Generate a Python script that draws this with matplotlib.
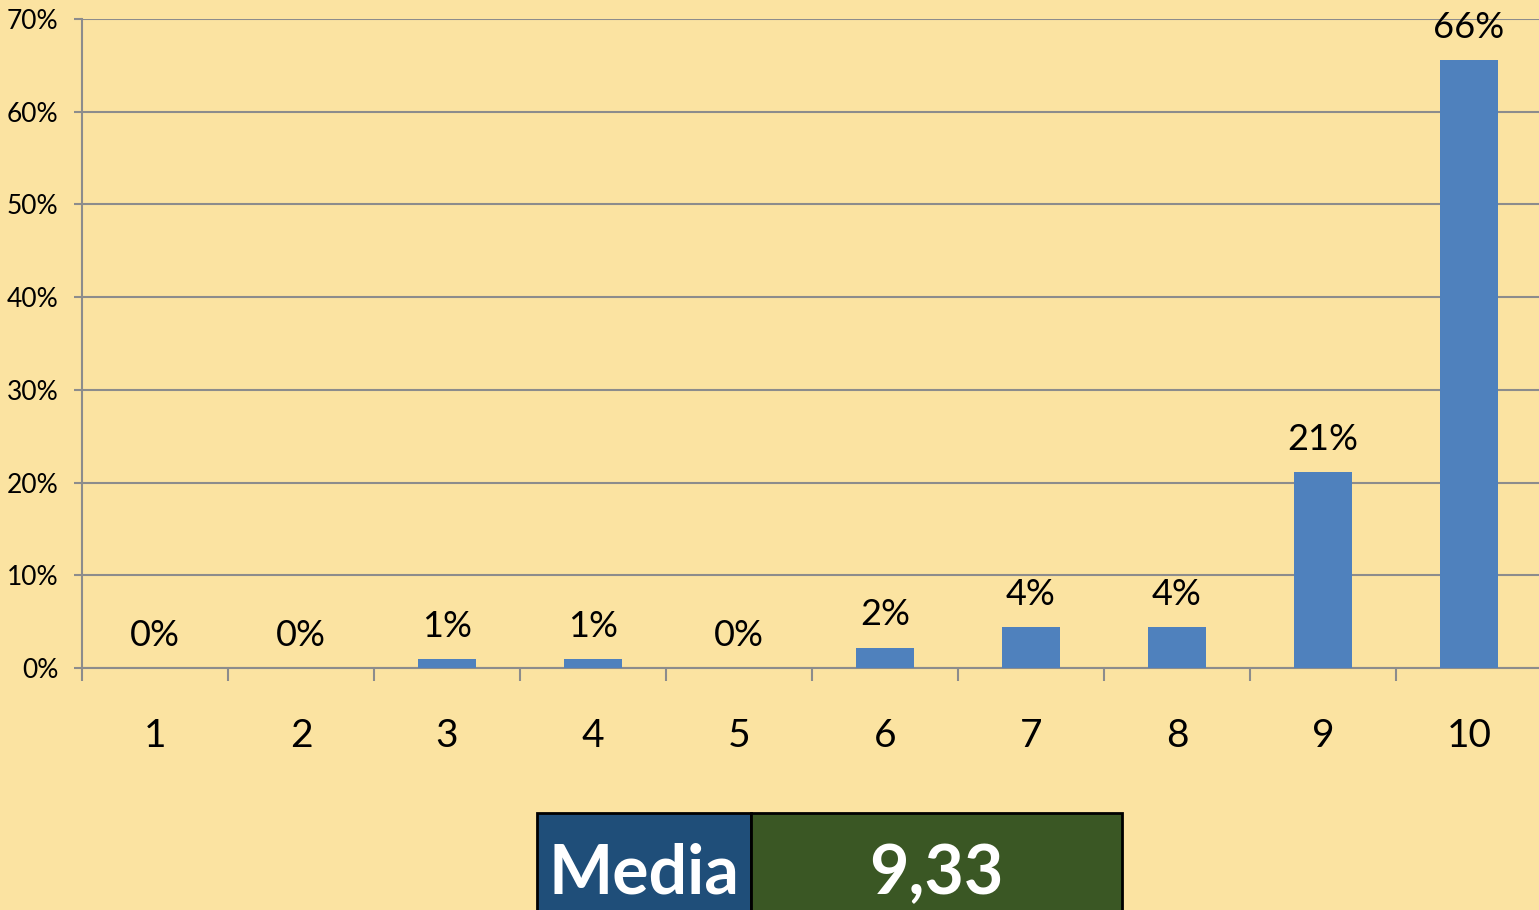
import matplotlib
matplotlib.use("Agg")
import matplotlib.pyplot as plt
from matplotlib.patches import Rectangle
from matplotlib.ticker import MultipleLocator, FuncFormatter

categories = ["1", "2", "3", "4", "5", "6", "7", "8", "9", "10"]
values = [0.0, 0.0, 0.97, 0.97, 0.0, 2.2, 4.4, 4.4, 21.1, 65.6]
labels = ["0%", "0%", "1%", "1%", "0%", "2%", "4%", "4%", "21%", "66%"]
media_label = "Media"
media_value = "9,33"

W, H = 1539, 910
BG = "#FBE3A1"
BAR = "#4F81BD"
GRID = "#8C8C8C"

fig = plt.figure(figsize=(W / 100, H / 100), dpi=100, facecolor=BG)
ax_left, ax_right, ax_top, ax_bot = 82, 1539, 19, 668
ax = fig.add_axes([ax_left / W, (H - ax_bot) / H, (ax_right - ax_left) / W, (ax_bot - ax_top) / H])
ax.set_facecolor(BG)

cat_w = 146.0
x = list(range(1, len(categories) + 1))
ax.bar(x, values, width=0.4, color=BAR, zorder=3)
ax.set_xlim(0.5, 0.5 + (ax_right - ax_left) / cat_w)
ax.set_ylim(0, 70)

ax.yaxis.set_major_locator(MultipleLocator(10))
ax.yaxis.set_major_formatter(FuncFormatter(lambda v, p: f"{int(round(v))}%"))
ax.grid(axis="y", color=GRID, linewidth=1.5, zorder=1)

ax.set_xticks(x)
ax.set_xticklabels(categories)
ax.set_xticks([i + 0.5 for i in range(0, len(categories))], minor=True)
ax.tick_params(axis="x", which="major", length=0, pad=36, labelsize=28)
ax.tick_params(axis="x", which="minor", length=9, width=1.5, color=GRID, direction="out")
ax.tick_params(axis="y", which="major", length=6, width=1.5, color=GRID, labelsize=19, pad=11)

for lab in ax.get_xticklabels() + ax.get_yticklabels():
    lab.set_family(["Lato", "DejaVu Sans"])

for s in ["top", "right"]:
    ax.spines[s].set_visible(False)
for s in ["left", "bottom"]:
    ax.spines[s].set_color(GRID)
    ax.spines[s].set_linewidth(1.5)

for xi, v, t in zip(x, values, labels):
    ax.annotate(t, (xi, v), xytext=(0, 16), textcoords="offset points",
                ha="center", va="baseline", fontsize=26, family=["Lato", "DejaVu Sans"],
                color="black", zorder=4)

# Media box
def fx(px):
    return px / W

def fy(py):
    return (H - py) / H

bx0, bx1, bx2, by0, by1 = 537, 751, 1122, 813, 915
fig.patches.append(Rectangle((fx(bx0), fy(by1)), fx(bx1) - fx(bx0), fy(by0) - fy(by1),
                             transform=fig.transFigure, facecolor="#1F4E79",
                             edgecolor="black", linewidth=2))
fig.patches.append(Rectangle((fx(bx1), fy(by1)), fx(bx2) - fx(bx1), fy(by0) - fy(by1),
                             transform=fig.transFigure, facecolor="#3A5724",
                             edgecolor="black", linewidth=2))
fig.text(fx((bx0 + bx1) / 2), fy(894), media_label, ha="center", va="baseline",
         fontsize=49, fontweight="bold", color="white", family=["Lato", "DejaVu Sans"])
fig.text(fx((bx1 + bx2) / 2), fy(894), media_value, ha="center", va="baseline",
         fontsize=49, fontweight="bold", color="white", family=["Lato", "DejaVu Sans"])

fig.savefig("out.png", dpi=100, facecolor=BG)
